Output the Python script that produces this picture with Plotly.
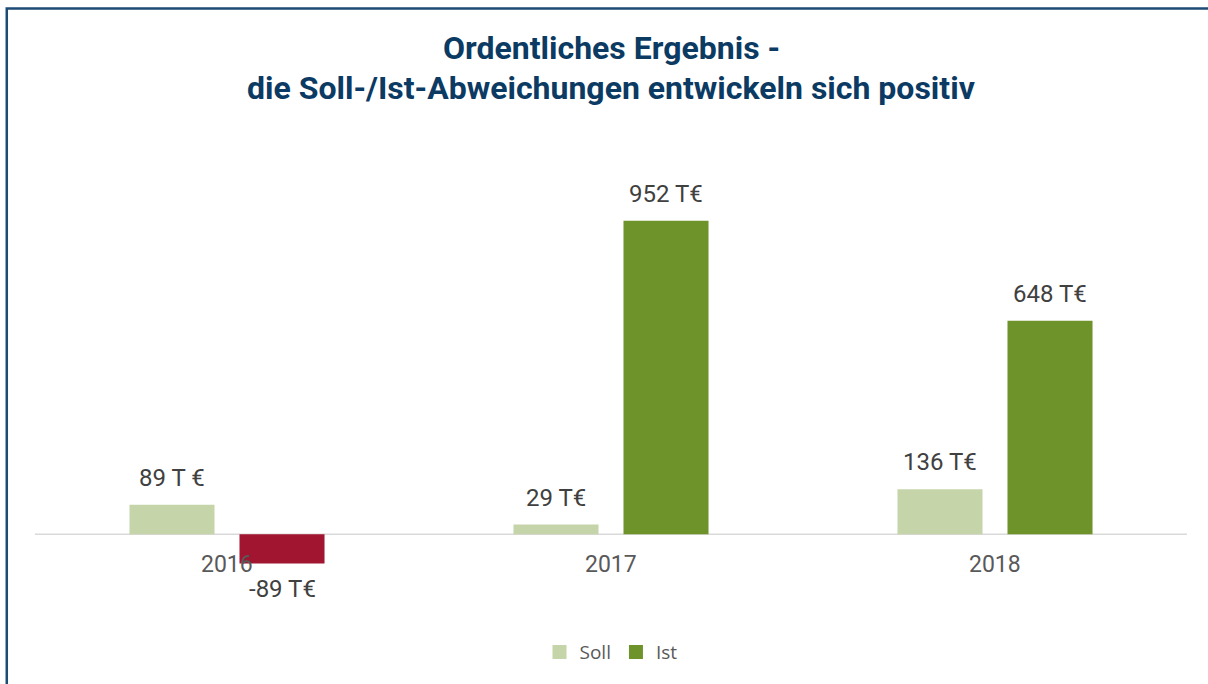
import plotly.graph_objects as go

categories = ["2016", "2017", "2018"]
soll = [89, 29, 136]
ist = [-89, 952, 648]
soll_labels = ["89 T €", "29 T€", "136 T€"]
ist_labels = ["-89 T€", "952 T€", "648 T€"]
title_lines = ["Ordentliches Ergebnis -", "die Soll-/Ist-Abweichungen entwickeln sich positiv"]

SOLL_COLOR = "#c5d5a9"
IST_COLOR = "#6f932b"
NEG_COLOR = "#a21530"
LABEL_COLOR = "#404040"
TITLE_COLOR = "#0b3a63"

ist_colors = [NEG_COLOR if v < 0 else IST_COLOR for v in ist]

fig = go.Figure()
fig.add_trace(go.Bar(name="Soll", x=categories, y=soll, marker_color=SOLL_COLOR,
                     marker_line_width=0, offsetgroup="soll", showlegend=False))
fig.add_trace(go.Bar(name="Ist", x=categories, y=ist, marker_color=ist_colors,
                     marker_line_width=0, offsetgroup="ist", showlegend=False))
# legend entries (square swatches)
for name, col in [("Soll", SOLL_COLOR), ("Ist", IST_COLOR)]:
    fig.add_trace(go.Scatter(name=name, x=[None], y=[None], mode="markers",
                             marker=dict(symbol="square", size=14, color=col, line_width=0),
                             showlegend=True, hoverinfo="skip"))

bargap = 0.427
groupgap = 0.227
slot = (1 - bargap) / 2
off = slot / 2

label_font = dict(family="Roboto", size=24, color=LABEL_COLOR)
annotations = []
for i, (s, lab) in enumerate(zip(soll, soll_labels)):
    annotations.append(dict(x=i - off, y=s, xref="x", yref="y", text=lab, showarrow=False,
                            yanchor="middle", yshift=27 if s >= 0 else -26, font=label_font))
for i, (v, lab) in enumerate(zip(ist, ist_labels)):
    annotations.append(dict(x=i + off, y=v, xref="x", yref="y", text=lab, showarrow=False,
                            yanchor="middle", yshift=27 if v >= 0 else -26, font=label_font))
for i, c in enumerate(categories):
    annotations.append(dict(x=i, y=0, xref="x", yref="y", text=c, showarrow=False,
                            yanchor="middle", yshift=-30,
                            font=dict(family="Roboto", size=23, color="#595959")))
# title, two lines
plot_bottom_px = 684 - 84.2
plot_h = 460
for line, ypx in zip(title_lines, [49, 89]):
    annotations.append(dict(x=0.5, xref="paper", y=(plot_bottom_px - ypx) / plot_h, yref="paper",
                            text="<b>" + line + "</b>", showarrow=False,
                            xanchor="center", yanchor="middle",
                            font=dict(family="Roboto", size=32, color=TITLE_COLOR)))

fig.update_layout(
    width=1208, height=684,
    margin=dict(l=35, r=21, t=139.4, b=84.2),
    paper_bgcolor="white", plot_bgcolor="white",
    barmode="group", bargap=bargap, bargroupgap=groupgap,
    xaxis=dict(showticklabels=False, showgrid=False, zeroline=False, showline=False,
               ticks=""),
    yaxis=dict(range=[-200, 1200], visible=False, showgrid=False, zeroline=False),
    legend=dict(orientation="h", x=0.5, xanchor="center", y=-0.113, yanchor="middle",
                font=dict(family="Open Sans", size=19, color="#595959"),
                traceorder="normal", itemwidth=30),
    annotations=annotations,
    shapes=[
        dict(type="line", xref="paper", yref="y", x0=0, x1=1, y0=0, y1=0,
             line=dict(color="#d9d9d9", width=1.5), layer="below"),
        dict(type="rect", xref="paper", yref="paper", x0=-0.0245, x1=1.2, y0=-0.3, y1=1.283,
             line=dict(color="#1c4b75", width=2.5), fillcolor="rgba(0,0,0,0)"),
    ],
    showlegend=True,
)

fig.write_html("out.html", config={"displayModeBar": False},
               post_script="document.body.style.margin='0';")
